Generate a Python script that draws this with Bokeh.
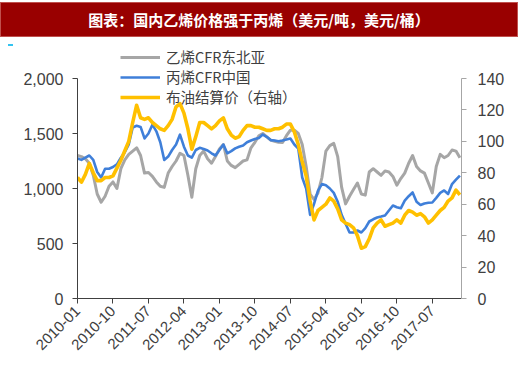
import numpy as np
from bokeh.plotting import figure
from bokeh.models import (Range1d, LinearAxis, FixedTicker, Legend, LegendItem,
                          Div, NumeralTickFormatter)
from bokeh.layouts import column
from bokeh.embed import file_html
from bokeh.resources import INLINE

title_text = "图表：国内乙烯价格强于丙烯（美元/吨，美元/桶）"
tick_labels = ["2010-01", "2010-10", "2011-07", "2012-04", "2013-01", "2013-10",
               "2014-07", "2015-04", "2016-01", "2016-10", "2017-07"]
tick_step = 9  # months between labelled ticks
series_names = ["乙烯CFR东北亚", "丙烯CFR中国", "布油结算价（右轴）"]
left_ticks = [0, 500, 1000, 1500, 2000]
right_ticks = [0, 20, 40, 60, 80, 100, 120, 140]

# monthly, 2010-01 .. 2018-02 (USD/t)
ethylene = [1300, 1290, 1270, 1230, 1120, 950, 875, 930, 1020, 1060,
            1000, 1180, 1260, 1310, 1340, 1370, 1300, 1140, 1145, 1110,
            1060, 1020, 1010, 1140, 1200, 1250, 1320, 1300, 1120, 920,
            1180, 1300, 1340, 1270, 1230, 1290, 1360, 1400, 1250, 1210,
            1190, 1220, 1250, 1260, 1370, 1420, 1480, 1500, 1470, 1440,
            1430, 1420, 1418, 1480, 1530, 1530, 1500, 1400, 1200, 950,
            900, 960, 1100, 1340, 1390, 1410, 1290, 1010, 860, 930,
            990, 1050, 950, 940, 1150, 1180, 1150, 1120, 1160, 1150,
            1110, 1030, 1090, 1140, 1230, 1300, 1200, 1160, 1140, 1050,
            960, 1200, 1310, 1280, 1300, 1350, 1340, 1280]
# USD/t
propylene = [1273, 1260, 1280, 1300, 1260, 1150, 1100, 1180, 1180, 1195,
             1220, 1280, 1330, 1400, 1555, 1570, 1560, 1455, 1500, 1580,
             1520, 1420, 1260, 1290, 1350, 1400, 1490, 1380, 1300, 1280,
             1350, 1370, 1360, 1345, 1320, 1300, 1350, 1400, 1320, 1340,
             1365, 1380, 1390, 1420, 1436, 1450, 1460, 1490, 1470, 1440,
             1436, 1430, 1436, 1445, 1455, 1400, 1364, 1100, 1000, 760,
             860, 980, 1040, 1030, 1000, 960, 880, 760, 680, 600,
             600, 618, 600, 640, 700, 720, 736, 745, 755, 800,
             845, 830, 820, 890, 930, 964, 880, 850, 864, 870,
             873, 915, 960, 982, 950, 1040, 1080, 1118]
# USD/bbl (right axis)
brent = [77, 74, 79, 86, 80, 75, 75, 77, 77, 78,
         83, 88, 94, 100, 112, 123, 115, 114, 115, 112,
         110, 108, 107, 110, 114, 122, 124, 118, 108, 95,
         103, 112, 112, 110, 108, 110, 113, 115, 108, 104,
         102, 103, 107, 110, 110, 109, 109, 108, 107, 107,
         108, 108, 109, 111, 111, 106, 98, 87, 78, 62,
         50, 56, 58, 60, 64, 62, 57, 50, 48, 47,
         45, 40, 32, 33, 38, 45, 48, 50, 46, 47,
         48, 50, 48, 53, 56, 55, 53, 54, 52, 48,
         50, 53, 56, 58, 62, 64, 69, 66]

x = np.arange(len(ethylene))
TXT = "#404040"
LAT = "Liberation Sans"
CJK = "Noto Sans CJK SC"

W = 518
header = Div(
    text=(f'<div style="width:{W}px;height:35px;margin-top:2px;background:#990000;'
          f'border:1px solid #c0504d;box-sizing:border-box;color:white;font-family:\'{CJK}\';'
          f'font-weight:bold;font-size:15px;line-height:33px;text-align:center;">{title_text}</div>'
          '<div style="width:5px;height:2px;background:#33c3f0;margin-top:7px;margin-left:8px;"></div>'),
    width=W, height=38, margin=(0, 0, 0, 0), styles={"overflow": "visible", "z-index": "5"})

# frame: 2000 (left) / 140 (right) span 220 px; extra headroom above for the legend
frame_h = 258
top_left = 2000 * frame_h / 220
top_right = 140 * frame_h / 220

p = figure(width=W, height=323, x_range=Range1d(0, 97.4), y_range=Range1d(0, top_left),
           output_backend="svg", toolbar_location=None,
           min_border_left=77, min_border_right=W - 461, min_border_top=2, min_border_bottom=63,
           outline_line_color=None, margin=(0, 0, 0, 0), border_fill_alpha=0)
p.xgrid.visible = False
p.ygrid.visible = False
p.extra_y_ranges = {"r": Range1d(0, top_right)}

r_eth = p.line(x, ethylene, line_color="#A6A6A6", line_width=3, line_join="round")
r_pro = p.line(x, propylene, line_color="#3F7FD9", line_width=2.6, line_join="round")
r_brt = p.line(x, brent, y_range_name="r", line_color="#FFC000", line_width=3.6, line_join="round")

# bottom axis
xa = p.xaxis[0]
xa.ticker = FixedTicker(ticks=[i * tick_step for i in range(len(tick_labels))])
xa.major_label_overrides = {i * tick_step: lab for i, lab in enumerate(tick_labels)}
xa.major_label_orientation = np.pi / 4
xa.axis_line_color = "#404040"
xa.major_tick_line_color = "#404040"
xa.major_tick_out = 5
xa.major_tick_in = 0
xa.minor_tick_line_color = None
xa.major_label_text_font = LAT
xa.major_label_text_font_size = "15px"
xa.major_label_text_color = TXT
xa.major_label_standoff = 5

# left axis
ya = p.yaxis[0]
ya.ticker = FixedTicker(ticks=left_ticks)
ya.bounds = (0, 2000)
ya.formatter = NumeralTickFormatter(format="0,0")
ya.axis_line_color = "#404040"
ya.major_tick_line_color = "#404040"
ya.major_tick_out = 5
ya.major_tick_in = 0
ya.minor_tick_line_color = None
ya.major_label_text_font = LAT
ya.major_label_text_font_size = "16px"
ya.major_label_text_color = TXT
ya.major_label_standoff = 9

# right axis
ra = LinearAxis(y_range_name="r", ticker=FixedTicker(ticks=right_ticks), bounds=(0, 140))
ra.axis_line_color = "#A6A6A6"
ra.major_tick_line_color = "#A6A6A6"
ra.major_tick_out = 5
ra.major_tick_in = 0
ra.minor_tick_line_color = None
ra.major_label_text_font = LAT
ra.major_label_text_font_size = "16px"
ra.major_label_text_color = TXT
ra.major_label_standoff = 11
p.add_layout(ra, "right")

# one single-item legend per row, to control row spacing exactly
row_y = [231, 211, 191]
for name, rend, ly in zip(series_names, [r_eth, r_pro, r_brt], row_y):
    lg = Legend(items=[LegendItem(label=name, renderers=[rend])],
                location=(43, ly), padding=0, margin=0, spacing=0,
                glyph_width=40, glyph_height=20, label_height=20, label_standoff=6,
                label_text_font=CJK, label_text_font_size="14.5px", label_text_color=TXT,
                background_fill_alpha=0, border_line_alpha=0)
    p.add_layout(lg)

layout = column(header, p, spacing=0)
open("out.html", "w").write(file_html(layout, INLINE))
